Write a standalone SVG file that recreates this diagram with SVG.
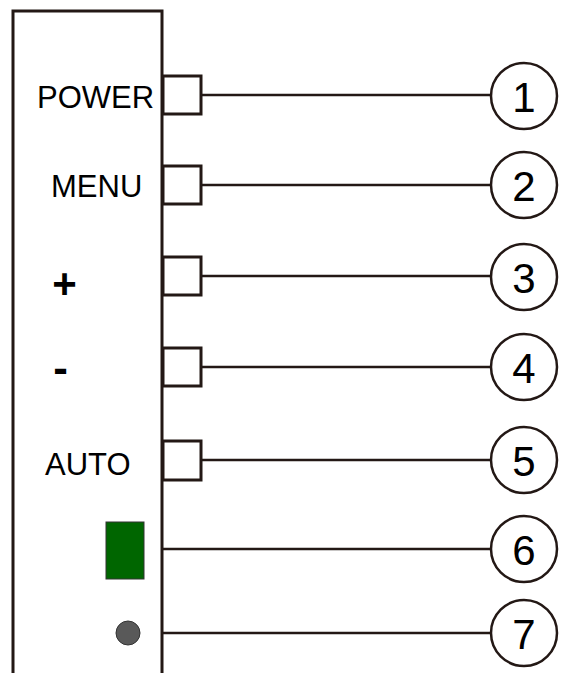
<svg xmlns="http://www.w3.org/2000/svg" width="561" height="673" viewBox="0 0 561 673">
<style>
.frame{fill:none;stroke:#231815;stroke-width:3}
.btn{fill:#fff;stroke:#231815;stroke-width:3}
.wire{fill:none;stroke:#231815;stroke-width:2.5}
.num{fill:#fff;stroke:#231815;stroke-width:2.5}
.lbl{font-family:"Liberation Sans",Arial,sans-serif;font-size:31px;fill:#000}
.sym{font-family:"Liberation Sans",Arial,sans-serif;font-weight:bold;fill:#000}
.dig{font-family:"Liberation Sans",Arial,sans-serif;font-size:42px;fill:#000;text-anchor:middle}
</style>
<rect width="561" height="673" fill="#fff"/>
<g id="panel">
<path class="frame" d="M13,673 V11 H162 V673"/>
</g>
<g id="connectors">
<line class="wire" x1="201" y1="95" x2="491" y2="95"/>
<line class="wire" x1="201" y1="185" x2="491" y2="185"/>
<line class="wire" x1="201" y1="276" x2="491" y2="276"/>
<line class="wire" x1="201" y1="367" x2="491" y2="367"/>
<line class="wire" x1="201" y1="460" x2="491" y2="460"/>
<line class="wire" x1="162" y1="549" x2="491" y2="549"/>
<line class="wire" x1="162" y1="633" x2="491" y2="633"/>
</g>
<g id="power">
<rect class="btn" x="163" y="76" width="38" height="38"/>
<text class="lbl" x="37" y="108">POWER</text>
</g>
<g id="menu">
<rect class="btn" x="163" y="166" width="38" height="38"/>
<text class="lbl" x="51" y="197">MENU</text>
</g>
<g id="plus">
<rect class="btn" x="163" y="257" width="38" height="38"/>
<text class="sym" x="64.5" y="298" font-size="42" text-anchor="middle">+</text>
</g>
<g id="minus">
<rect class="btn" x="163" y="348" width="38" height="38"/>
<text class="sym" x="60.5" y="383" font-size="44" text-anchor="middle">-</text>
</g>
<g id="auto">
<rect class="btn" x="163" y="441" width="38" height="39"/>
<text class="lbl" x="45" y="475">AUTO</text>
</g>
<g id="led-green">
<rect x="106" y="522" width="38" height="57" fill="#006600" stroke="#333" stroke-width="1"/>
</g>
<g id="led-gray">
<circle cx="128" cy="633" r="12" fill="#595959" stroke="#333" stroke-width="1"/>
</g>
<g id="n1"><circle class="num" cx="524" cy="96" r="33"/><text class="dig" x="524" y="112">1</text></g>
<g id="n2"><circle class="num" cx="524" cy="185" r="33"/><text class="dig" x="524" y="201">2</text></g>
<g id="n3"><circle class="num" cx="524" cy="277" r="33"/><text class="dig" x="524" y="293">3</text></g>
<g id="n4"><circle class="num" cx="524" cy="367" r="33"/><text class="dig" x="524" y="383">4</text></g>
<g id="n5"><circle class="num" cx="524" cy="460" r="33"/><text class="dig" x="524" y="476">5</text></g>
<g id="n6"><circle class="num" cx="524" cy="549" r="33"/><text class="dig" x="524" y="565">6</text></g>
<g id="n7"><circle class="num" cx="524" cy="633" r="33"/><text class="dig" x="524" y="649">7</text></g>
</svg>
